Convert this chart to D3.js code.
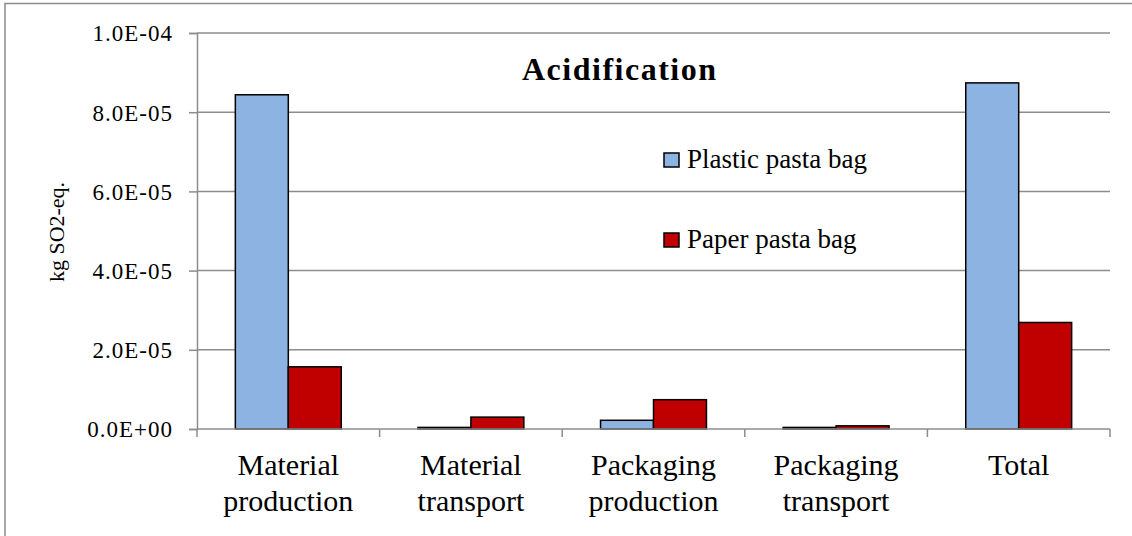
<!DOCTYPE html>
<html>
<head>
<meta charset="utf-8">
<script src="https://cdn.jsdelivr.net/npm/d3@7"></script>
<style>
  html, body { margin: 0; padding: 0; background: #fff; }
  svg { display: block; }
</style>
</head>
<body>
<svg id="chart" width="1132" height="536"></svg>
<script>
// Acidification per life-cycle stage, kg SO2-eq.
const categories = [
  ["Material", "production"],
  ["Material", "transport"],
  ["Packaging", "production"],
  ["Packaging", "transport"],
  ["Total"]
];
const seriesNames = ["Plastic pasta bag", "Paper pasta bag"];
const plasticValues = [8.44e-5, 4e-7, 2.2e-6, 4e-7, 8.74e-5];
const paperValues = [1.57e-5, 3.0e-6, 7.4e-6, 8e-7, 2.69e-5];
const yTicks = [0, 2e-5, 4e-5, 6e-5, 8e-5, 1e-4];
const chartTitle = "Acidification";
const yLabel = "kg SO2-eq.";

const colors = ["#8DB3E2", "#C00000"];
const SERIF = "'Liberation Serif', 'DejaVu Serif', serif";
const GRID = "#8c8c8c";

const svg = d3.select("#chart");
const W = 1132, H = 536;
const plot = { left: 197, right: 1110, top: 33, bottom: 429 };

// outer chart frame
svg.append("rect")
  .attr("x", 5).attr("y", 3.5)
  .attr("width", W + 10).attr("height", H + 10)
  .attr("fill", "none").attr("stroke", GRID).attr("stroke-width", 1.5);

const catKeys = categories.map((c, i) => i);
const x0 = d3.scaleBand().domain(catKeys).range([plot.left, plot.right]).padding(0);
const x1 = d3.scaleBand().domain(seriesNames)
  .range([x0.bandwidth() * 0.21, x0.bandwidth() * 0.79]).padding(0);
const y = d3.scaleLinear().domain([0, 1e-4]).range([plot.bottom, plot.top]);

const fmt = v => {
  const [m, e] = v.toExponential(1).split("e");
  const sign = e[0] === "-" ? "-" : "+";
  const digits = e.replace(/[+-]/, "").padStart(2, "0");
  return m + "E" + sign + digits;
};

// horizontal gridlines
svg.append("g")
  .selectAll("line").data(yTicks.slice(1)).join("line")
  .attr("x1", plot.left).attr("x2", plot.right)
  .attr("y1", d => y(d)).attr("y2", d => y(d))
  .attr("stroke", GRID).attr("stroke-width", 1.5);

// y axis
const yAxis = svg.append("g")
  .attr("transform", `translate(${plot.left},0)`)
  .call(d3.axisLeft(y).tickValues(yTicks).tickFormat(fmt).tickSize(8).tickPadding(16));
yAxis.select(".domain").attr("stroke", GRID).attr("stroke-width", 1.5);
yAxis.selectAll(".tick line").attr("stroke", GRID).attr("stroke-width", 1.5);
yAxis.selectAll(".tick text")
  .attr("fill", "#000")
  .style("font-family", SERIF)
  .style("font-size", "23px").style("letter-spacing", "1px")
  .attr("dy", "0.34em");

// bars
const groups = svg.append("g").selectAll("g").data(catKeys).join("g")
  .attr("transform", d => `translate(${x0(d)},0)`);
groups.selectAll("rect")
  .data(i => [
    { s: seriesNames[0], v: plasticValues[i], c: colors[0] },
    { s: seriesNames[1], v: paperValues[i], c: colors[1] }
  ])
  .join("rect")
  .attr("x", d => x1(d.s))
  .attr("width", x1.bandwidth())
  .attr("y", d => y(d.v))
  .attr("height", d => y(0) - y(d.v))
  .attr("fill", d => d.c)
  .attr("stroke", "#000").attr("stroke-width", 1.5);

// x axis with tick marks at category boundaries
const xAxisG = svg.append("g");
xAxisG.append("line")
  .attr("x1", plot.left).attr("x2", plot.right)
  .attr("y1", y(0)).attr("y2", y(0))
  .attr("stroke", GRID).attr("stroke-width", 1.5);
const boundaries = catKeys.map(k => x0(k)).concat([plot.right]);
xAxisG.selectAll("line.tk").data(boundaries).join("line")
  .attr("class", "tk")
  .attr("x1", d => d).attr("x2", d => d)
  .attr("y1", y(0)).attr("y2", y(0) + 8)
  .attr("stroke", GRID).attr("stroke-width", 1.5);

// category labels
const catLabels = xAxisG.selectAll("text.cat").data(catKeys).join("text")
  .attr("class", "cat")
  .attr("x", d => x0(d) + x0.bandwidth() / 2)
  .attr("y", 475)
  .attr("text-anchor", "middle")
  .style("font-family", SERIF)
  .style("font-size", "30px");
catLabels.selectAll("tspan").data(d => categories[d]).join("tspan")
  .attr("x", function () { return d3.select(this.parentNode).attr("x"); })
  .attr("dy", (d, i) => i === 0 ? 0 : 36)
  .text(d => d);

// y axis title
svg.append("text")
  .attr("transform", "translate(64,232) rotate(-90)")
  .attr("text-anchor", "middle")
  .style("font-family", SERIF)
  .style("font-size", "22px")
  .text(yLabel);

// chart title
svg.append("text")
  .attr("x", 522).attr("y", 80)
  .attr("text-anchor", "start")
  .style("font-family", SERIF)
  .style("font-size", "32px").style("font-weight", "bold")
  .style("letter-spacing", "1.5px")
  .text(chartTitle);

// legend
const legend = svg.append("g").selectAll("g").data(seriesNames).join("g")
  .attr("transform", (d, i) => `translate(664,${153 + i * 80})`);
legend.append("rect")
  .attr("width", 15).attr("height", 14)
  .attr("fill", (d, i) => colors[i])
  .attr("stroke", "#000").attr("stroke-width", 1.5);
legend.append("text")
  .attr("x", 23).attr("y", 15)
  .style("font-family", SERIF)
  .style("font-size", "27px")
  .text(d => d);
</script>
</body>
</html>
